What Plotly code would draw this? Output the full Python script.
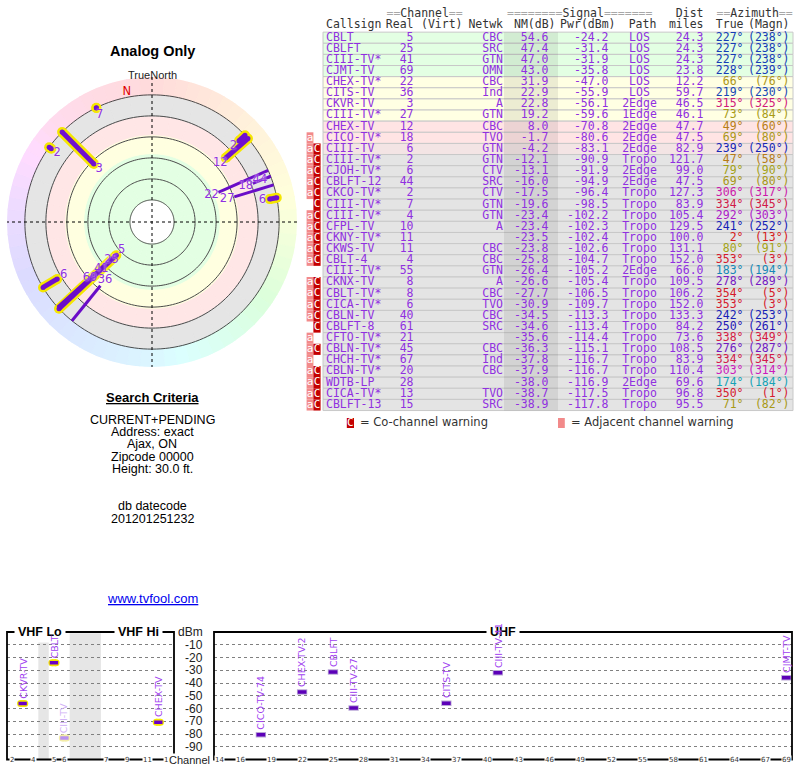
import numpy as np
import plotly.graph_objects as go

# ---------------- data ----------------
callsigns = ["CBLT", "CBLFT", "CIII-TV*", "CJMT-TV", "CHEX-TV*", "CITS-TV", "CKVR-TV", "CIII-TV*",
             "CHEX-TV", "CICO-TV*", "CIII-TV", "CIII-TV*", "CJOH-TV*", "CBLFT-12", "CKCO-TV*", "CIII-TV*",
             "CIII-TV*", "CFPL-TV", "CKNY-TV*", "CKWS-TV", "CBLT-4", "CIII-TV*", "CKNX-TV", "CBLT-TV*",
             "CICA-TV*", "CBLN-TV", "CBLFT-8", "CFTO-TV*", "CBLN-TV*", "CHCH-TV*", "CBLN-TV*", "WDTB-LP",
             "CICA-TV*", "CBLFT-13"]
real_ch = [5, 25, 41, 69, 22, 36, 3, 27, 12, 18, 6, 2, 6, 44, 2, 7, 4, 10, 11, 11, 4, 55, 8, 8, 6, 40,
           61, 21, 45, 67, 20, 28, 13, 15]
netwk = ["CBC", "SRC", "GTN", "OMN", "CBC", "Ind", "A", "GTN", "CBC", "TVO", "GTN", "GTN", "CTV", "SRC",
         "CTV", "GTN", "GTN", "A", "", "CBC", "CBC", "GTN", "A", "CBC", "TVO", "CBC", "SRC", "", "CBC",
         "Ind", "CBC", "", "TVO", "SRC"]
nm_db = [54.6, 47.4, 47.0, 43.0, 31.9, 22.9, 22.8, 19.2, 8.0, -1.7, -4.2, -12.1, -13.1, -16.0, -17.5,
         -19.6, -23.4, -23.4, -23.5, -23.8, -25.8, -26.4, -26.6, -27.7, -30.9, -34.5, -34.6, -35.6,
         -36.3, -37.8, -37.9, -38.0, -38.7, -38.9]
pwr_dbm = [-24.2, -31.4, -31.9, -35.8, -47.0, -55.9, -56.1, -59.6, -70.8, -80.6, -83.1, -90.9, -91.9,
           -94.9, -96.4, -98.5, -102.2, -102.3, -102.4, -102.6, -104.7, -105.2, -105.4, -106.5, -109.7,
           -113.3, -113.4, -114.4, -115.1, -116.7, -116.7, -116.9, -117.5, -117.8]
path = ["LOS", "LOS", "LOS", "LOS", "LOS", "LOS", "2Edge", "1Edge", "2Edge", "2Edge", "2Edge", "Tropo",
        "2Edge", "2Edge", "Tropo", "Tropo", "Tropo", "Tropo", "Tropo", "Tropo", "Tropo", "2Edge", "Tropo",
        "Tropo", "Tropo", "Tropo", "Tropo", "Tropo", "Tropo", "Tropo", "Tropo", "2Edge", "Tropo", "Tropo"]
dist_miles = [24.3, 24.3, 24.3, 23.8, 12.2, 59.7, 46.5, 46.1, 47.7, 47.5, 82.9, 121.7, 99.0, 47.5, 127.3,
              83.9, 105.4, 129.5, 100.0, 131.1, 152.0, 66.0, 109.5, 106.2, 152.0, 133.3, 84.2, 73.6,
              108.5, 83.9, 110.4, 69.6, 96.8, 95.5]
az_true = [227, 227, 227, 228, 66, 219, 315, 73, 49, 69, 239, 47, 79, 69, 306, 334, 292, 241, 2, 80, 353,
           183, 278, 354, 353, 242, 250, 338, 276, 334, 303, 174, 350, 71]
az_magn = [238, 238, 238, 239, 76, 230, 325, 84, 60, 80, 250, 58, 90, 80, 317, 345, 303, 252, 13, 91, 3,
           194, 289, 5, 3, 253, 261, 349, 287, 345, 314, 184, 1, 82]
flags = ["", "", "", "", "", "", "", "", "", "a", "ac", "ac", "ac", "ac", "ac", "c", "ac", "ac", "ac",
         "ac", "ac", "", "ac", "ac", "ac", "ac", "c", "a", "ac", "a", "ac", "ac", "ac", "ac"]
# spectrum-chart labels for the strongest stations (first rows of the table)
spectrum_names = ["CBLT", "CBLFT", "CIII-TV-41", "CJMT-TV", "CHEX-TV-2", "CITS-TV", "CKVR-TV",
                  "CIII-TV-27", "CHEX-TV", "CICO-TV-74", "CIII-TV"]
vhf_lo_ticks = [2, 4, 5, 6, 7, 9, 11, 13]
uhf_ticks = [14, 16, 19, 22, 25, 28, 31, 34, 37, 40, 43, 46, 49, 52, 55, 58, 61, 64, 67, 69]
dbm_ticks = [-10, -20, -30, -40, -50, -60, -70, -80, -90]
criteria_lines = ["CURRENT+PENDING", "Address: exact", "Ajax, ON", "Zipcode 00000", "Height: 30.0 ft."]

# ---------------- style helpers ----------------
W, H = 800, 768
MONO = "DejaVu Sans Mono"
SANS = "Liberation Sans"
DJS = "DejaVu Sans"
VIOLET = "#9030e0"


def PX(p):
    return p / W


def PY(p):
    return 1 - p / H


def hue_of(az):
    return float(np.interp(az, [0, 47, 80, 180, 240, 280, 303, 315, 334, 353, 360],
                           [0, 38, 60, 195, 235, 275, 305, 328, 345, 354, 360]))


def az_color(az):
    h = hue_of(az)
    light = float(np.interp(h, [0, 40, 60, 120, 195, 240, 300, 360], [47, 40, 36, 36, 40, 40, 45, 47]))
    return f"hsl({h:.0f},78%,{light:.0f}%)"


def ring_color(az):
    return f"hsl({hue_of(az):.0f},100%,93%)"


def row_bg(nm):
    if nm >= 36:
        return "#e3ffe3"
    if nm >= 15:
        return "#ffffe3"
    if nm >= -3:
        return "#ffe4e4"
    if nm >= -8:
        return "#f3e4e4"
    return "#e4e4e4"


n = len(callsigns)
rows = list(range(n))
fig = go.Figure()

# ---------------- table ----------------
TA = dict(xaxis="x3", yaxis="y3", hoverinfo="skip")
fig.add_trace(go.Bar(orientation="h", y=rows, x=[470] * n, base=[323] * n, width=1,
                     marker=dict(color=[row_bg(v) for v in nm_db], line=dict(color="#c8c8c8", width=1)), **TA))
fig.add_trace(go.Bar(orientation="h", y=rows, x=[54] * n, base=[504] * n, width=1,
                     marker=dict(color="rgba(0,0,0,0.075)", line=dict(width=0)), **TA))
a_rows = [i for i in rows if "a" in flags[i]]
c_rows = [i for i in rows if "c" in flags[i]]
fig.add_trace(go.Bar(orientation="h", y=a_rows + [34.62], x=[6.8] * (len(a_rows) + 1),
                     base=[306.6] * len(a_rows) + [558], width=[1] * len(a_rows) + [0.9],
                     marker=dict(color="#f28a8a", line=dict(width=0)), **TA))
fig.add_trace(go.Bar(orientation="h", y=c_rows + [34.62], x=[7.2] * (len(c_rows) + 1),
                     base=[313.4] * len(c_rows) + [346.8], width=[1] * len(c_rows) + [0.9],
                     marker=dict(color="#c40000", line=dict(width=0)), **TA))


def text_col(x, ys, texts, pos, colors, size=11.5, family=MONO):
    fig.add_trace(go.Scatter(x=[x] * len(texts), y=ys, text=texts, mode="text", textposition=pos,
                             textfont=dict(family=family, size=size, color=colors), cliponaxis=False, **TA))


text_col(310.0, a_rows + [34.62], ["a"] * (len(a_rows) + 1), "middle center", "white", 11)
text_col(317.0, c_rows, ["C"] * len(c_rows), "middle center", "white", 11)
text_col(350.2, [34.62], ["C"], "middle center", "white", 11)

text_col(326, rows, callsigns, "middle right", VIOLET)
text_col(413.5, rows, [str(c) for c in real_ch], "middle left", VIOLET)
text_col(503, rows, netwk, "middle left", VIOLET)
text_col(548.5, rows, [f"{v:.1f}" for v in nm_db], "middle left", VIOLET)
text_col(608.5, rows, [f"{v:.1f}" for v in pwr_dbm], "middle left", VIOLET)
text_col(639.5, rows, path, "middle center", VIOLET)
text_col(703.5, rows, [f"{v:.1f}" for v in dist_miles], "middle left", VIOLET)
text_col(743.5, rows, [f"{a}°" for a in az_true], "middle left", [az_color(a) for a in az_true])
text_col(789.5, rows, [f"({m}°)" for m in az_magn], "middle left", [az_color(a) for a in az_true])

HDR = "#333333"


def eq(k):
    return f"<span style='color:#a8a8a8'>{'=' * k}</span>"


h1, h2 = -2.13, -1.12
text_col(386.5, [h1], [eq(2) + "Channel" + eq(2)], "middle right", HDR)
text_col(507, [h1], [eq(8) + "Signal" + eq(7)], "middle right", HDR)
text_col(703.5, [h1], ["Dist"], "middle left", HDR)
text_col(716.5, [h1], [eq(2) + "Azimuth" + eq(2)], "middle right", HDR)
text_col(326, [h2], ["Callsign"], "middle right", HDR)
text_col(413.5, [h2], ["Real"], "middle left", HDR)
text_col(421, [h2], ["(Virt)"], "middle right", HDR)
text_col(503, [h2], ["Netwk"], "middle left", HDR)
text_col(555.5, [h2], ["NM(dB)"], "middle left", HDR)
text_col(615.5, [h2], ["Pwr(dBm)"], "middle left", HDR)
text_col(642.5, [h2], ["Path"], "middle center", HDR)
text_col(703.5, [h2], ["miles"], "middle left", HDR)
text_col(743.5, [h2], ["True"], "middle left", HDR)
text_col(789.5, [h2], ["(Magn)"], "middle left", HDR)
text_col(360, [34.62], ["= Co-channel warning"], "middle right", HDR, 11.5, DJS)
text_col(571, [34.62], ["= Adjacent channel warning"], "middle right", HDR, 11.5, DJS)

# ---------------- polar (radar) chart ----------------
PA = dict(subplot="polar", hoverinfo="skip")
OUT = 120
band_edges = [(20, 64, "#e3ffe3"), (64, 82, "#ffffe0"), (82, 100, "#ffe6e6"), (100, OUT, "#e5e5e5")]
wt = np.arange(5, 360, 10)
for lo, hi, col in band_edges:
    fig.add_trace(go.Barpolar(theta=wt, r=[hi - lo] * len(wt), base=[lo] * len(wt), width=[10] * len(wt),
                              marker=dict(color=col, line=dict(color=col, width=0.8)), **PA))
rt = np.arange(2.5, 360, 5)
rcols = [ring_color(t) for t in rt]
fig.add_trace(go.Barpolar(theta=rt, r=[17] * len(rt), base=[OUT] * len(rt), width=[5] * len(rt),
                          marker=dict(color=rcols, line=dict(color=rcols, width=0.8)), **PA))
circ_t, circ_r = [], []
for rv in [20, 40, 60, 80, 100, 120]:
    tt = np.linspace(0, 360, 181)
    circ_t += list(tt) + [None]
    circ_r += [rv] * len(tt) + [None]
fig.add_trace(go.Scatterpolar(theta=circ_t, r=circ_r, mode="lines", line=dict(color="#4a4a4a", width=1), **PA))
fig.add_trace(go.Scatterpolar(theta=[0, 0, 180, None, 90, 90, 270], r=[137, -1, 137, None, 137, -1, 137],
                              mode="lines", line=dict(color="black", width=1, dash="dot"), **PA))

polar_idx = [i for i in rows if nm_db[i] >= -20]


def seg(idx):
    th, rr = [], []
    for i in idx:
        th += [az_true[i], az_true[i], None]
        rr += [100 - nm_db[i], OUT, None]
    return th, rr


vhf_p = [i for i in polar_idx if real_ch[i] <= 13]
uhf_p = [i for i in polar_idx if real_ch[i] > 13]
th, rr = seg(vhf_p)
fig.add_trace(go.Scatterpolar(theta=th, r=rr, mode="lines+markers", line=dict(color="#f5e600", width=10),
                              marker=dict(color="#f5e600", size=10), **PA))
fig.add_trace(go.Scatterpolar(theta=th, r=rr, mode="lines+markers", line=dict(color="#7010d0", width=5),
                              marker=dict(color="#7010d0", size=5), **PA))
th, rr = seg(uhf_p)
fig.add_trace(go.Scatterpolar(theta=th, r=rr, mode="lines", line=dict(color="#6a0cc8", width=3), **PA))

placed = []
for i in sorted(polar_idx, key=lambda k: 100 - nm_db[k]):
    r0 = 100 - nm_db[i] - 7
    for j, rj in placed:
        if abs(az_true[j] - az_true[i]) <= 3 and rj - 13.3 < r0 < rj + 13.3:
            r0 = rj + 13.3
    placed.append((i, r0))
fig.add_trace(go.Scatterpolar(theta=[az_true[i] for i, _ in placed], r=[r for _, r in placed],
                              text=[str(real_ch[i]) for i, _ in placed], mode="text",
                              textfont=dict(family=DJS, size=11.5, color=VIOLET,
                                            shadow="0px 0px 2px white"), **PA))
fig.add_trace(go.Scatterpolar(theta=[349], r=[124.5], text=["N"], mode="text",
                              textfont=dict(family=DJS, size=11.5, color="#e00000"), **PA))

# ---------------- spectrum charts ----------------
spec_idx = [i for i in rows if nm_db[i] >= -10]


def slot(ch):
    if ch <= 4:
        return ch
    if ch <= 6:
        return ch + 1
    return ch + 4


vhf_s = [i for i in spec_idx if real_ch[i] <= 13]
uhf_s = [i for i in spec_idx if real_ch[i] > 13]
for faded in (False, True):
    idx = [i for i in vhf_s if ("c" in flags[i]) == faded]
    if not idx:
        continue
    yl = "#f3eca8" if faded else "#f5e600"
    pu = "#b890f0" if faded else "#6a00c8"
    xs, ys, xs2 = [], [], []
    for i in idx:
        s = slot(real_ch[i])
        xs += [s - 0.2, s + 0.2, None]
        xs2 += [s - 0.4, s + 0.4, None]
        ys += [pwr_dbm[i], pwr_dbm[i], None]
    fig.add_trace(go.Scatter(x=xs, y=ys, mode="lines+markers", line=dict(color=yl, width=7),
                             marker=dict(color=yl, size=7), xaxis="x", yaxis="y", hoverinfo="skip"))
    fig.add_trace(go.Scatter(x=xs2, y=ys, mode="lines", line=dict(color=pu, width=3.5),
                             xaxis="x", yaxis="y", hoverinfo="skip"))
xs, xs2, ys = [], [], []
for i in uhf_s:
    c = real_ch[i]
    xs += [c - 0.5, c + 0.5, None]
    xs2 += [c - 0.42, c + 0.42, None]
    ys += [pwr_dbm[i], pwr_dbm[i], None]
fig.add_trace(go.Scatter(x=xs, y=ys, mode="lines", line=dict(color="#b9a6d6", width=5.5),
                         xaxis="x2", yaxis="y2", hoverinfo="skip"))
fig.add_trace(go.Scatter(x=xs2, y=ys, mode="lines", line=dict(color="#5c00b8", width=3.5),
                         xaxis="x2", yaxis="y2", hoverinfo="skip"))

ann = []
# panel titles first so that the station labels are drawn over them
for txt, cx in [("VHF Lo", 39.5), ("VHF Hi", 138.5), ("UHF", 503)]:
    ann.append(dict(x=PX(cx), y=0, xref="paper", yref="y", text=f"<b>{txt}</b>", showarrow=False,
                    xanchor="center", yanchor="middle",
                    bgcolor="white", borderpad=3, font=dict(family=SANS, size=12.5, color="black")))
for i in spec_idx:
    vhf = real_ch[i] <= 13
    faded = "c" in flags[i]
    ann.append(dict(x=slot(real_ch[i]) if vhf else real_ch[i], y=pwr_dbm[i],
                    xref="x" if vhf else "x2", yref="y" if vhf else "y2",
                    text=spectrum_names[i], textangle=-90, showarrow=False, xanchor="center",
                    yanchor="bottom", yshift=3,
                    font=dict(family=DJS, size=9.5, color="#d0b0f6" if faded else "#a040f0")))
for ch in vhf_lo_ticks:
    ann.append(dict(x=slot(ch), y=-100, xref="x", yref="y", text=str(ch), showarrow=False,
                    xanchor="center", yanchor="middle",
                    bgcolor="white", borderpad=0, font=dict(family=DJS, size=7, color="#333")))
for ch in uhf_ticks:
    ann.append(dict(x=ch, y=-100, xref="x2", yref="y2", text=str(ch), showarrow=False,
                    xanchor="center", yanchor="middle",
                    bgcolor="white", borderpad=0, font=dict(family=DJS, size=7, color="#333")))
for v in dbm_ticks:
    ann.append(dict(x=PX(205), y=v, xref="paper", yref="y", text=str(v), showarrow=False,
                    xanchor="right", yanchor="middle", font=dict(family=SANS, size=12, color="#222")))
ann.append(dict(x=PX(205), y=0, xref="paper", yref="y", text="dBm", showarrow=False, xanchor="right",
                yanchor="middle", font=dict(family=SANS, size=12, color="#222")))
ann.append(dict(x=PX(211), y=-100, xref="paper", yref="y", text="Channel", showarrow=False,
                xanchor="right", yanchor="middle", bgcolor="white", borderpad=0,
                font=dict(family=SANS, size=11, color="#222")))

shapes = [
    dict(type="rect", xref="x", yref="y", x0=4.5, x1=5.5, y0=-100, y1=-1, layer="below",
         fillcolor="#e6e6e6", line=dict(width=0)),
    dict(type="rect", xref="x", yref="y", x0=7.5, x1=10.5, y0=-100, y1=-1, layer="below",
         fillcolor="#e6e6e6", line=dict(width=0)),
    dict(type="rect", xref="x domain", yref="y domain", x0=0, x1=1, y0=0, y1=1,
         line=dict(color="black", width=1.8)),
    dict(type="rect", xref="x2 domain", yref="y2 domain", x0=0, x1=1, y0=0, y1=1,
         line=dict(color="black", width=1.8)),
]


# ---------------- left text block ----------------
def ctext(ypx, txt, size=12.5, color="black"):
    ann.append(dict(x=PX(152), y=PY(ypx), xref="paper", yref="paper", text=txt, showarrow=False,
                    xanchor="center", yanchor="middle", font=dict(family=SANS, size=size, color=color)))


ctext(51, "<b>Analog Only</b>", 14.5)
ctext(74.5, "TrueNorth", 11, "#222")
ctext(397, "<b><u>Search Criteria</u></b>", 13)
for k, line in enumerate(criteria_lines):
    ctext(419.5 + 12.4 * k, line)
ctext(506, "db datecode")
ctext(519, "201201251232")
ctext(598, "<u>www.tvfool.com</u>", 13, "#0000ee")

hidden = dict(showgrid=False, zeroline=False, showticklabels=False, showline=False, ticks="", fixedrange=True)
ygrid = dict(showgrid=True, gridcolor="#808080", griddash="dot", gridwidth=1, tickvals=dbm_ticks,
             zeroline=False, showticklabels=False, showline=False, ticks="", range=[-100, 0], fixedrange=True)
fig.update_layout(
    width=W, height=H, margin=dict(l=0, r=0, t=0, b=0), showlegend=False, hovermode=False,
    paper_bgcolor="white", plot_bgcolor="white", barmode="overlay",
    xaxis=dict(domain=[PX(7), PX(174)], range=[1.5, 17.5], anchor="y", **hidden),
    yaxis=dict(domain=[PY(759.5), PY(632)], anchor="x", **ygrid),
    xaxis2=dict(domain=[PX(214), PX(792)], range=[13.45, 69.55], anchor="y2", **hidden),
    yaxis2=dict(domain=[PY(759.5), PY(632)], anchor="x2", **ygrid),
    xaxis3=dict(domain=[PX(300), 1], range=[300, 800], anchor="y3", **hidden),
    yaxis3=dict(domain=[PY(440), 1], range=[36.146, -3.387], anchor="x3", **hidden),
    polar=dict(domain=dict(x=[PX(7), PX(297)], y=[PY(367), PY(77)]), bgcolor="white", barmode="overlay",
               radialaxis=dict(range=[-1, 137], visible=False),
               angularaxis=dict(rotation=90, direction="clockwise", visible=False)),
    annotations=ann, shapes=shapes,
)
fig.write_html("out.html", config={"displayModeBar": False, "staticPlot": True},
               post_script="document.body.style.margin='0px';document.body.style.overflow='hidden';")
